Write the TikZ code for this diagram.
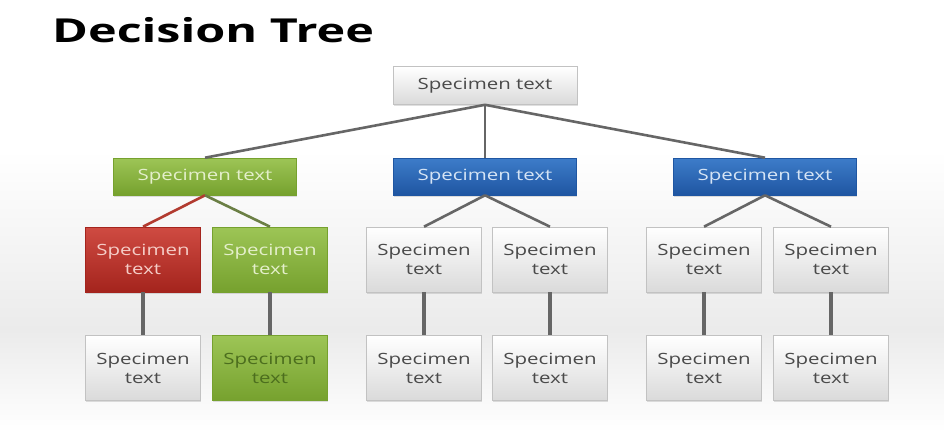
\documentclass[tikz,border=0pt]{standalone}
\usepackage{fontspec}
\setmainfont{Open Sans}
\usepackage{graphicx}
\usepackage{xcolor}
\usetikzlibrary{positioning,shadows}

\definecolor{greytext}{HTML}{4A4A4A}
\definecolor{greyedge}{HTML}{C2C2C2}
\definecolor{greylow}{HTML}{DADADA}
\definecolor{greentop}{HTML}{9DC556}
\definecolor{greenlow}{HTML}{76A12E}
\definecolor{greentext}{HTML}{E4EFCB}
\definecolor{greendark}{HTML}{4C6E1E}
\definecolor{bluetop}{HTML}{3D7CC9}
\definecolor{bluelow}{HTML}{1F56A2}
\definecolor{bluetext}{HTML}{D5E4F5}
\definecolor{redtop}{HTML}{CF4B42}
\definecolor{redlow}{HTML}{A4241D}
\definecolor{redtext}{HTML}{F5CDC7}
\definecolor{linkgrey}{HTML}{666666}
\definecolor{linkred}{HTML}{B23B30}
\definecolor{linkolive}{HTML}{6B7F45}
\definecolor{bggrey}{HTML}{EBEBEB}

% the slide font is set wide
\newcommand{\wide}[1]{\scalebox{1.32}[1]{#1}}
\newcommand{\twoline}{\wide{Specimen}\\\wide{text}}

\begin{document}
\begin{tikzpicture}[x=1pt,y=-1pt,
  every node/.style={font=\fontsize{15.5}{19}\selectfont, align=center},
  box/.style={line width=0.6pt, drop shadow={shadow xshift=0.8pt,shadow yshift=-1.8pt,opacity=0.25}},
  bar/.style={minimum width=183pt, minimum height=37pt},
  cell/.style={minimum width=115pt, minimum height=65pt},
  greybox/.style={box, draw=greyedge, top color=white, bottom color=greylow, text=greytext},
  greenbox/.style={box, draw=greenlow, top color=greentop, bottom color=greenlow, text=greentext},
  bluebox/.style={box, draw=bluelow, top color=bluetop, bottom color=bluelow, text=bluetext},
  redbox/.style={box, draw=redlow, top color=redtop, bottom color=redlow, text=redtext},
  link/.style={draw=linkgrey, line width=2.6pt},
  stem/.style={draw=linkgrey, line width=3.4pt},
  node distance=43pt]

  % background
  \fill[white] (0,0) rectangle (944,432);
  \shade[top color=white, bottom color=bggrey] (0,150) rectangle (944,330);
  \shade[top color=bggrey, bottom color=white] (0,330) rectangle (944,432);

  \node[anchor=base west, inner sep=0pt, font=\fontsize{33}{40}\selectfont\bfseries]
    (title) at (52,42) {\scalebox{1.47}[1]{Decision Tree}};

  % root and first level
  \node[greybox, minimum width=184pt, minimum height=38pt] (root) at (485,85.5) {\wide{Specimen text}};
  \node[greenbox, bar] (left) at (205,176.5) {\wide{Specimen text}};
  \node[bluebox, bar] (mid) at (485,176.5) {\wide{Specimen text}};
  \node[bluebox, bar] (right) at (765,176.5) {\wide{Specimen text}};

  % second level
  \node[redbox, cell] (la) at (143,259.5) {\twoline};
  \node[greenbox, cell] (lb) at (270,259.5) {\twoline};
  \node[greybox, cell] (ma) at (424,259.5) {\twoline};
  \node[greybox, cell] (mb) at (550,259.5) {\twoline};
  \node[greybox, cell] (ra) at (704,259.5) {\twoline};
  \node[greybox, cell] (rb) at (831,259.5) {\twoline};

  % third level
  \node[greybox, cell, below=of la] (la2) {\twoline};
  \node[greenbox, cell, below=of lb, text=greendark] (lb2) {\twoline};
  \node[greybox, cell, below=of ma] (ma2) {\twoline};
  \node[greybox, cell, below=of mb] (mb2) {\twoline};
  \node[greybox, cell, below=of ra] (ra2) {\twoline};
  \node[greybox, cell, below=of rb] (rb2) {\twoline};

  % links
  \draw[link] (root.south) -- (left.north);
  \draw[link] (root.south) -- (mid.north);
  \draw[link] (root.south) -- (right.north);
  \draw[link, draw=linkred] (left.south) -- (la.north);
  \draw[link, draw=linkolive] (left.south) -- (lb.north);
  \draw[link] (mid.south) -- (ma.north);
  \draw[link] (mid.south) -- (mb.north);
  \draw[link] (right.south) -- (ra.north);
  \draw[link] (right.south) -- (rb.north);
  \foreach \n in {la,lb,ma,mb,ra,rb}
    \draw[stem] (\n.south) -- (\n2.north);
\end{tikzpicture}
\end{document}
